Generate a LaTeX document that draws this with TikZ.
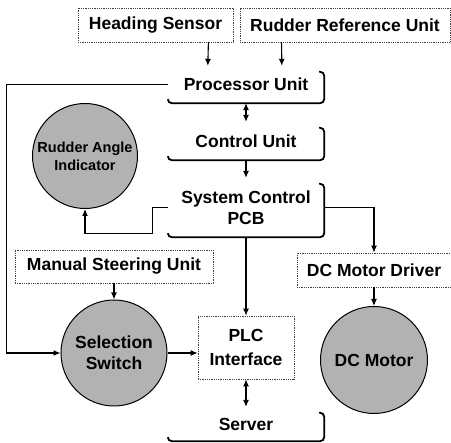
\documentclass[tikz,border=0pt]{standalone}
\usepackage{fontspec}
\setmainfont{Liberation Sans}
\usetikzlibrary{arrows.meta, positioning, calc}

\begin{document}
\begin{tikzpicture}[
  x=1pt, y=-1pt,
  lbl/.style={font=\fontsize{17.5}{21}\selectfont\bfseries},
  dotbox/.style={
    rectangle, draw=black!75, densely dotted, line width=0.8pt,
    fill=white, minimum height=34pt, inner sep=2pt, align=center, lbl
  },
  panel/.style={rectangle, minimum width=156pt, inner sep=0pt, align=center, lbl},
  disc/.style={
    circle, draw, line width=1pt, fill=black!30,
    minimum size=105pt, inner sep=0pt, align=center, lbl
  },
  rim/.style={line width=1.8pt, rounded corners=4pt},
  arr/.style={-{Latex[length=7pt,width=6pt]}, line width=1.1pt},
  darr/.style={{Latex[length=7pt,width=6pt]}-{Latex[length=7pt,width=6pt]}, line width=1.1pt}
]
  \useasboundingbox (0,0) rectangle (451,443);

  % inputs
  \node[dotbox, minimum width=155pt] (hs) at (155.5,25) {Heading Sensor};
  \node[dotbox, minimum width=210pt] (rru) at (345,25) {Rudder Reference Unit};

  % processing chain
  \node[panel, minimum height=37pt] (pu) at (246,84.5) {Processor Unit};
  \node[panel, minimum height=38pt] (cu) at (246,141) {Control Unit};
  \node[panel, minimum height=59pt] (pcb) at (246,207.5) {System Control\\PCB};
  \node[dotbox, minimum width=96pt, minimum height=63pt,
        font=\fontsize{17.5}{24}\selectfont\bfseries] (plc) at (246,347.5) {PLC\\Interface};
  \node[panel, minimum height=34pt] (srv) at (246,424) {Server};

  \foreach \n in {pu,cu,pcb,srv}
    \draw[rim] ([xshift=-5pt,yshift=-6pt]\n.north east) -- ([yshift=-6pt]\n.north east)
      -- (\n.south east) -- (\n.south west) -- ([yshift=4pt]\n.south west);

  % indicator, manual side and motor side
  \node[disc, font=\fontsize{14.5}{18}\selectfont\bfseries] (rai) at (85,156) {Rudder Angle\\Indicator};
  \node[dotbox, minimum width=198pt, minimum height=33pt] (msu) at (114,266.5) {Manual Steering Unit};
  \node[disc, minimum size=106pt] (sel) at (114,353) {Selection\\Switch};
  \node[dotbox, minimum width=154pt] (dmd) at (374,270) {DC Motor Driver};
  \node[disc, minimum size=107pt] (dcm) at (374,360) {DC Motor};

  \draw[arr] ($(hs.south east)+(-25,0)$) -- ($(pu.north west)+(40,0)$);
  \draw[arr] ($(rru.south west)+(42,0)$) -- ($(pu.north west)+(114,0)$);
  \draw[darr] (pu.south) -- (cu.north);
  \draw[arr] (cu.south) -- (pcb.north);
  \draw[arr] (pcb.south) -- (plc.north);
  \draw[darr] (plc.south) -- (srv.north);

  \draw[arr] (pu.west) -- ++(-161,0) |- (sel.west);
  \draw[arr] (pcb.west) -- ++(-15,0) -- ++(0,26) -| (rai.south);
  \draw[arr] (pcb.east) -| (dmd.north);
  \draw[arr] (dmd.south) -- (dcm.north);
  \draw[arr] (msu.south) -- (sel.north);
  \draw[arr] (sel.east) -- (sel.east -| plc.west);
\end{tikzpicture}
\end{document}
